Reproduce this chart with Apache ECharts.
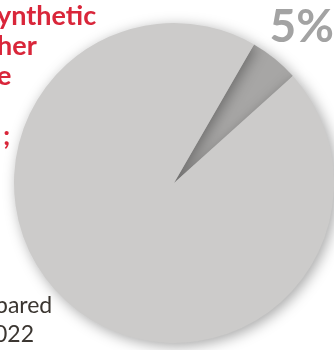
<!DOCTYPE html>
<html><head><meta charset="utf-8">
<style>html,body{margin:0;padding:0;background:#fff;}#c{width:334px;height:350px;}</style>
<script src="https://cdn.jsdelivr.net/npm/echarts@6/dist/echarts.min.js"></script>
</head><body><div id="c"></div>
<script>
const categories = ['Share', 'Rest'];
const values = [5, 95];
const sliceLabel = '5%';
const redLines = ['ynthetic', 'her', 'e', '', ';'];
const noteLines = ['pared', '022'];

const chart = echarts.init(document.getElementById('c'), null, {renderer: 'canvas'});
const colors = ['#a7a6a5', '#cccbca'];
const graphics = [];
redLines.forEach((t, i) => {
  if (!t) return;
  graphics.push({type: 'text', left: i === 4 ? 3 : -3, top: 3 + i * 30,
    style: {text: t, fill: '#d9263a', font: 'bold 27px Lato'}});
});
noteLines.forEach((t, i) => {
  graphics.push({type: 'text', left: i === 0 ? -5 : -6, top: 294 + i * 29,
    style: {text: t, fill: '#3b3631', font: '23px Lato'}});
});
graphics.push({type: 'text', right: 0, top: 4,
  style: {text: sliceLabel, fill: '#a3a3a3', font: 'bold 46px Lato'}});

chart.setOption({
  animation: false,
  graphic: graphics,
  series: [{
    type: 'pie',
    center: [174, 183],
    radius: [0, 160],
    startAngle: 60,
    clockwise: true,
    label: {show: false},
    labelLine: {show: false},
    emphasis: {disabled: true},
    itemStyle: {borderWidth: 0, shadowBlur: 14, shadowColor: 'rgba(0,0,0,0.35)', shadowOffsetX: 3, shadowOffsetY: 3},
    data: categories.map((c, i) => ({name: c, value: values[i], itemStyle: {color: colors[i]}}))
  }]
});
</script></body></html>
